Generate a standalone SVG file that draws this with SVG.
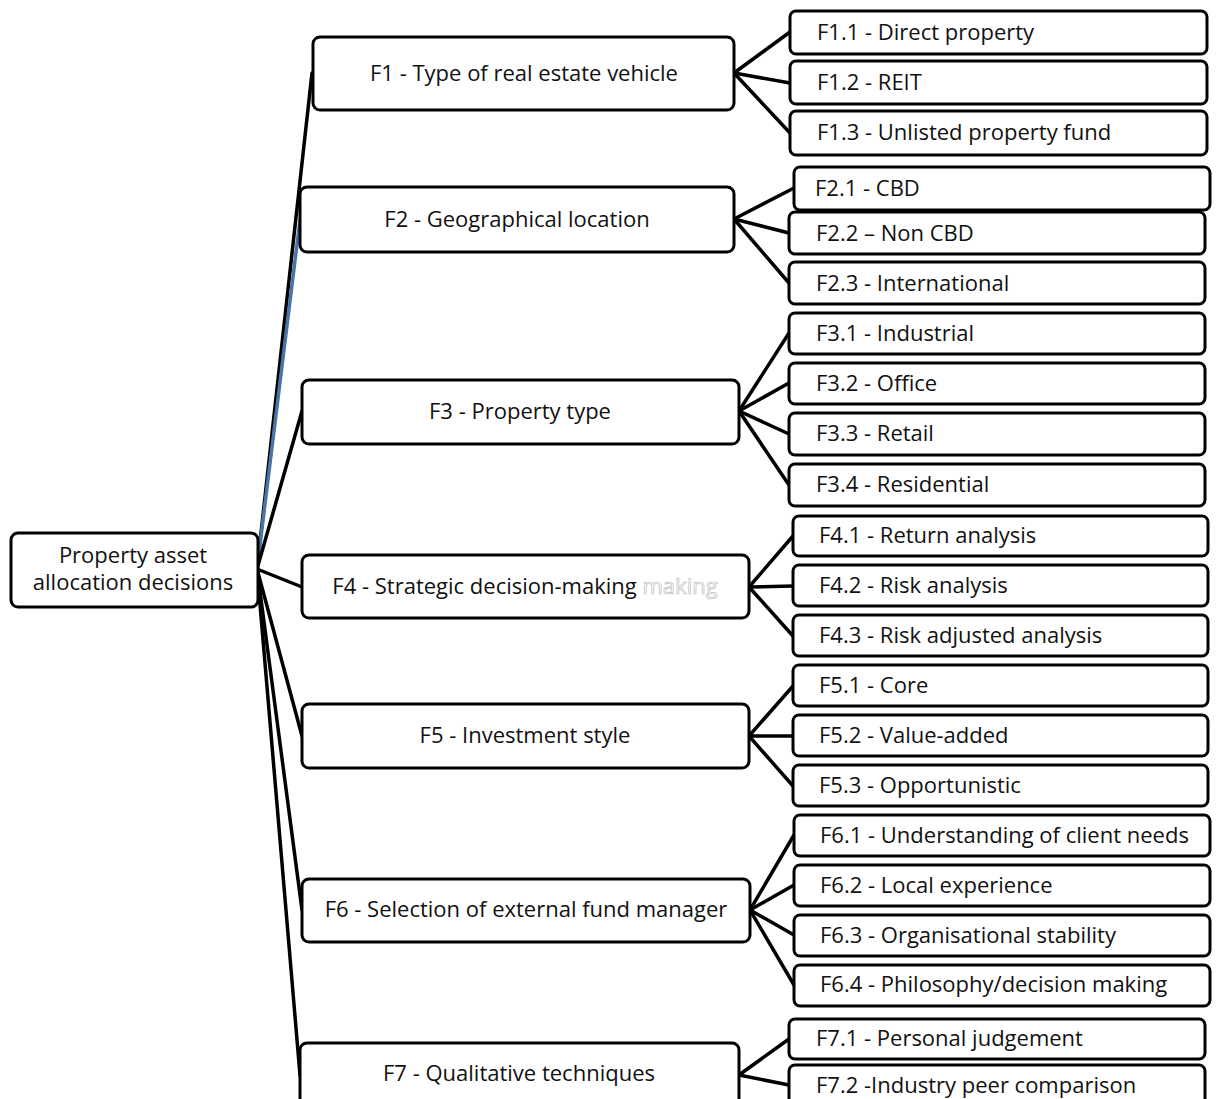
<svg xmlns="http://www.w3.org/2000/svg" width="1217" height="1099" viewBox="0 0 1217 1099">
<style>
.box{fill:#fff;stroke:#000;stroke-width:3}
.t{font-family:"Open Sans","Noto Sans",sans-serif;font-size:22px;fill:#111}
.c{text-anchor:middle}
.ln{stroke:#000;stroke-width:3.5;fill:none;stroke-linecap:round}
</style>
<rect width="1217" height="1099" fill="#fff"/>
<g id="connectors">
<line class="ln" x1="257" y1="569" x2="312" y2="73"/>
<line class="ln" x1="257" y1="569" x2="300" y2="220" style="stroke:#4a74a8"/>
<line class="ln" x1="257" y1="569" x2="302" y2="411"/>
<line class="ln" x1="257" y1="569" x2="302" y2="587"/>
<line class="ln" x1="257" y1="569" x2="302" y2="736"/>
<line class="ln" x1="257" y1="569" x2="302" y2="910"/>
<line class="ln" x1="257" y1="569" x2="300" y2="1075"/>
<line class="ln" x1="734" y1="73" x2="790" y2="32"/>
<line class="ln" x1="734" y1="73" x2="790" y2="83"/>
<line class="ln" x1="734" y1="73" x2="790" y2="133"/>
<line class="ln" x1="734" y1="219" x2="794" y2="188"/>
<line class="ln" x1="734" y1="219" x2="789" y2="233"/>
<line class="ln" x1="734" y1="219" x2="789" y2="283"/>
<line class="ln" x1="739" y1="411" x2="789" y2="333"/>
<line class="ln" x1="739" y1="411" x2="789" y2="383"/>
<line class="ln" x1="739" y1="411" x2="789" y2="434"/>
<line class="ln" x1="739" y1="411" x2="789" y2="485"/>
<line class="ln" x1="749" y1="587" x2="793" y2="536"/>
<line class="ln" x1="749" y1="587" x2="793" y2="586"/>
<line class="ln" x1="749" y1="587" x2="793" y2="636"/>
<line class="ln" x1="749" y1="736" x2="793" y2="686"/>
<line class="ln" x1="749" y1="736" x2="793" y2="736"/>
<line class="ln" x1="749" y1="736" x2="793" y2="786"/>
<line class="ln" x1="750" y1="910" x2="794" y2="835"/>
<line class="ln" x1="750" y1="910" x2="794" y2="885"/>
<line class="ln" x1="750" y1="910" x2="794" y2="935"/>
<line class="ln" x1="750" y1="910" x2="794" y2="985"/>
<line class="ln" x1="739" y1="1075" x2="789" y2="1039"/>
<line class="ln" x1="739" y1="1075" x2="789" y2="1085"/>
</g>
<g id="root"><rect class="box" x="11" y="533" width="247" height="74" rx="7"/><text class="t c" x="133" y="563">Property asset</text><text class="t c" x="133" y="590">allocation decisions</text></g>
<g id="F1"><rect class="box" x="313" y="37" width="421" height="73" rx="7"/><text class="t c" x="524" y="81">F1 - Type of real estate vehicle</text></g>
<g id="F2"><rect class="box" x="300" y="187" width="434" height="65" rx="7"/><text class="t c" x="517" y="227">F2 - Geographical location</text></g>
<g id="F3"><rect class="box" x="302" y="380" width="437" height="64" rx="7"/><text class="t c" x="520" y="419">F3 - Property type</text></g>
<g id="F4"><rect class="box" x="302" y="555" width="447" height="63" rx="7"/><text class="t c" x="525" y="594">F4 - Strategic decision-making <tspan style="fill:#fff;stroke:#bdbdbd;stroke-width:0.7">making</tspan></text></g>
<g id="F5"><rect class="box" x="302" y="704" width="447" height="64" rx="7"/><text class="t c" x="525" y="743">F5 - Investment style</text></g>
<g id="F6"><rect class="box" x="302" y="879" width="448" height="63" rx="7"/><text class="t c" x="526" y="917">F6 - Selection of external fund manager</text></g>
<g id="F7"><rect class="box" x="300" y="1043" width="439" height="75" rx="7"/><text class="t c" x="519" y="1081">F7 - Qualitative techniques</text></g>
<g id="F1.1"><rect class="box" x="790" y="11" width="417" height="43" rx="6"/><text class="t" x="817" y="40">F1.1 - Direct property</text></g>
<g id="F1.2"><rect class="box" x="790" y="61" width="417" height="43" rx="6"/><text class="t" x="817" y="90">F1.2 - REIT</text></g>
<g id="F1.3"><rect class="box" x="790" y="111" width="417" height="44" rx="6"/><text class="t" x="817" y="140">F1.3 - Unlisted property fund</text></g>
<g id="F2.1"><rect class="box" x="794" y="167" width="416" height="43" rx="6"/><text class="t" x="815" y="196">F2.1 - CBD</text></g>
<g id="F2.2"><rect class="box" x="789" y="212" width="416" height="42" rx="6"/><text class="t" x="816" y="241">F2.2 – Non CBD</text></g>
<g id="F2.3"><rect class="box" x="789" y="262" width="416" height="42" rx="6"/><text class="t" x="816" y="291">F2.3 - International</text></g>
<g id="F3.1"><rect class="box" x="789" y="313" width="416" height="41" rx="6"/><text class="t" x="816" y="341">F3.1 - Industrial</text></g>
<g id="F3.2"><rect class="box" x="789" y="363" width="416" height="41" rx="6"/><text class="t" x="816" y="391">F3.2 - Office</text></g>
<g id="F3.3"><rect class="box" x="789" y="413" width="416" height="42" rx="6"/><text class="t" x="816" y="441">F3.3 - Retail</text></g>
<g id="F3.4"><rect class="box" x="789" y="464" width="416" height="42" rx="6"/><text class="t" x="816" y="492">F3.4 - Residential</text></g>
<g id="F4.1"><rect class="box" x="793" y="516" width="415" height="40" rx="6"/><text class="t" x="819" y="543">F4.1 - Return analysis</text></g>
<g id="F4.2"><rect class="box" x="793" y="565" width="415" height="41" rx="6"/><text class="t" x="819" y="593">F4.2 - Risk analysis</text></g>
<g id="F4.3"><rect class="box" x="793" y="615" width="415" height="41" rx="6"/><text class="t" x="819" y="643">F4.3 - Risk adjusted analysis</text></g>
<g id="F5.1"><rect class="box" x="793" y="665" width="415" height="41" rx="6"/><text class="t" x="819" y="693">F5.1 - Core</text></g>
<g id="F5.2"><rect class="box" x="793" y="715" width="415" height="41" rx="6"/><text class="t" x="819" y="743">F5.2 - Value-added</text></g>
<g id="F5.3"><rect class="box" x="793" y="765" width="415" height="41" rx="6"/><text class="t" x="819" y="793">F5.3 - Opportunistic</text></g>
<g id="F6.1"><rect class="box" x="794" y="815" width="416" height="41" rx="6"/><text class="t" x="820" y="843">F6.1 - Understanding of client needs</text></g>
<g id="F6.2"><rect class="box" x="794" y="865" width="416" height="41" rx="6"/><text class="t" x="820" y="893">F6.2 - Local experience</text></g>
<g id="F6.3"><rect class="box" x="794" y="915" width="416" height="41" rx="6"/><text class="t" x="820" y="943">F6.3 - Organisational stability</text></g>
<g id="F6.4"><rect class="box" x="794" y="965" width="416" height="41" rx="6"/><text class="t" x="820" y="992">F6.4 - Philosophy/decision making</text></g>
<g id="F7.1"><rect class="box" x="789" y="1019" width="416" height="40" rx="6"/><text class="t" x="816" y="1046">F7.1 - Personal judgement</text></g>
<g id="F7.2"><rect class="box" x="789" y="1065" width="416" height="45" rx="6"/><text class="t" x="816" y="1093">F7.2 -Industry peer comparison</text></g>
</svg>
